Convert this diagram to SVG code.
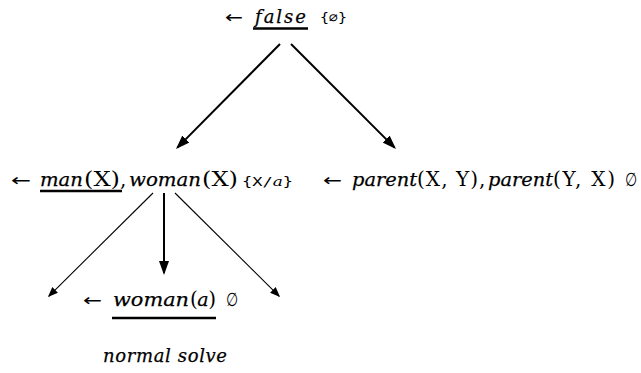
<svg xmlns="http://www.w3.org/2000/svg" width="641" height="373" viewBox="0 0 641 373">
<style>
text{fill:#000;font-size:18px}
.m{font-family:"DejaVu Serif",serif;font-style:italic;stroke:#000;stroke-width:0.25}
.r{font-family:"DejaVu Serif",serif;font-size:20px}
.s{font-family:"DejaVu Sans Mono",monospace;font-size:13px}
.a{font-family:"DejaVu Sans",sans-serif;font-size:17px}
.e{font-family:"DejaVu Sans",sans-serif;font-size:19px}
.u{stroke:#000;stroke-width:2.5}
.thick{stroke:#000;stroke-width:2;fill:none}
.thin{stroke:#000;stroke-width:1.1;fill:none}
</style>
<defs>
<marker id="hk" markerUnits="userSpaceOnUse" markerWidth="14" markerHeight="10" refX="12" refY="5" orient="auto"><path d="M0,0 L14,5 L0,10 z" fill="#000"/></marker>
<marker id="hn" markerUnits="userSpaceOnUse" markerWidth="10" markerHeight="8" refX="9" refY="4" orient="auto"><path d="M0,0 L10,4 L0,8 z" fill="#000"/></marker>
</defs>
<g id="connectors">
<line class="thick" x1="280" y1="44" x2="177.4" y2="147.6" marker-end="url(#hk)"/>
<line class="thick" x1="291" y1="44" x2="394.6" y2="147.6" marker-end="url(#hk)"/>
<line class="thin" x1="153" y1="193" x2="48.7" y2="296.3" marker-end="url(#hn)"/>
<line class="thick" x1="164" y1="193" x2="164" y2="273" marker-end="url(#hk)"/>
<line class="thin" x1="175" y1="193" x2="279.3" y2="296.3" marker-end="url(#hn)"/>
</g>
<g id="root">
<text class="a" x="225" y="23" textLength="18" lengthAdjust="spacingAndGlyphs">←</text>
<text class="m" x="255" y="23" font-size="19px" textLength="51" lengthAdjust="spacing">false</text>
<line class="u" x1="253" y1="28.5" x2="308" y2="28.5"/>
<text class="s" x="320" y="22" textLength="27" lengthAdjust="spacingAndGlyphs">{∅}</text>
</g>
<g id="left">
<text class="a" x="11" y="186" textLength="20" lengthAdjust="spacingAndGlyphs">←</text>
<text class="m" x="40" y="186" font-size="19px" textLength="43" lengthAdjust="spacingAndGlyphs">man</text>
<text class="r" x="84" y="186" textLength="36" lengthAdjust="spacingAndGlyphs">(X)</text>
<text class="r" x="120" y="186">,</text>
<text class="m" x="129" y="186" font-size="19px" textLength="72" lengthAdjust="spacingAndGlyphs">woman</text>
<text class="r" x="202" y="186" textLength="36" lengthAdjust="spacingAndGlyphs">(X)</text>
<text class="s" x="242" y="186" textLength="51" lengthAdjust="spacingAndGlyphs">{X/<tspan font-family="DejaVu Serif" font-style="italic">a</tspan>}</text>
<line class="u" x1="40" y1="191" x2="122" y2="191"/>
</g>
<g id="right">
<text class="a" x="323" y="186" textLength="19" lengthAdjust="spacingAndGlyphs">←</text>
<text class="m" x="352" y="186" font-size="19px" textLength="65" lengthAdjust="spacingAndGlyphs">parent</text>
<text class="r" x="417" y="186" textLength="61" lengthAdjust="spacing">(X, Y)</text>
<text class="r" x="479" y="186">,</text>
<text class="m" x="488" y="186" font-size="19px" textLength="65" lengthAdjust="spacingAndGlyphs">parent</text>
<text class="r" x="553" y="186" textLength="62" lengthAdjust="spacing">(Y, X)</text>
<text class="e" x="625" y="186" textLength="12" lengthAdjust="spacingAndGlyphs">∅</text>
</g>
<g id="bottom">
<text class="a" x="83" y="306" textLength="19" lengthAdjust="spacingAndGlyphs">←</text>
<text class="m" x="113" y="306" font-size="19px" textLength="76" lengthAdjust="spacingAndGlyphs">woman</text>
<text class="r" x="190" y="306" textLength="26" lengthAdjust="spacing">(<tspan font-family="DejaVu Serif" font-style="italic" font-size="19px" stroke="#000" stroke-width="0.25">a</tspan>)</text>
<text class="e" x="226" y="306" textLength="12" lengthAdjust="spacingAndGlyphs">∅</text>
<line class="u" x1="112" y1="318" x2="216" y2="318"/>
</g>
<g id="label">
<text class="m" x="103" y="362" font-size="18px" textLength="124" lengthAdjust="spacing">normal solve</text>
</g>
</svg>
